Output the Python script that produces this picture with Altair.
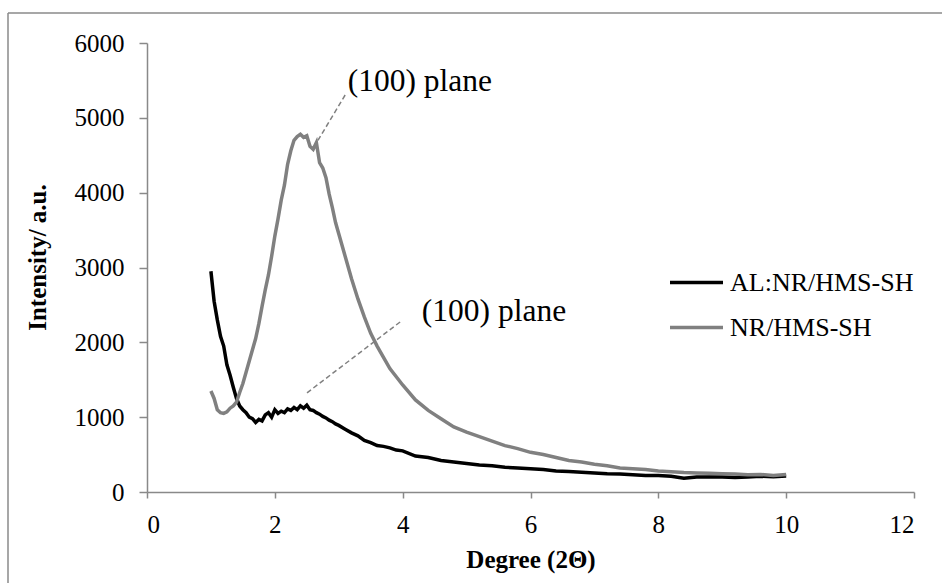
import altair as alt
import pandas as pd

# ---- data ----
degree = [1.0, 1.05, 1.1, 1.15, 1.2, 1.25, 1.3, 1.35, 1.4, 1.45, 1.5, 1.55, 1.6, 1.65, 1.7,
          1.75, 1.8, 1.85, 1.9, 1.95, 2.0, 2.05, 2.1, 2.15, 2.2, 2.25, 2.3, 2.35, 2.4, 2.45,
          2.5, 2.55, 2.6, 2.65, 2.7, 2.75, 2.8, 2.85, 2.9, 2.95, 3.0, 3.1, 3.2, 3.3, 3.4,
          3.5, 3.6, 3.7, 3.8, 3.9, 4.0, 4.2, 4.4, 4.6, 4.8, 5.0, 5.2, 5.4, 5.6, 5.8, 6.0,
          6.2, 6.4, 6.6, 6.8, 7.0, 7.2, 7.4, 7.6, 7.8, 8.0, 8.2, 8.4, 8.6, 8.8, 9.0, 9.2,
          9.4, 9.6, 9.8, 10.0]

al_nr_hms_sh = [2950, 2550, 2300, 2080, 1950, 1700, 1560, 1400, 1250, 1150, 1100, 1060, 1000, 980, 930,
                970, 950, 1030, 1060, 1000, 1100, 1050, 1080, 1060, 1110, 1090, 1130, 1100, 1150, 1120,
                1160, 1100, 1090, 1060, 1040, 1010, 990, 960, 940, 910, 890, 840, 790, 750, 690,
                660, 620, 610, 590, 560, 550, 480, 460, 420, 400, 380, 360, 350, 330, 320, 310,
                300, 280, 275, 265, 255, 245, 240, 230, 220, 220, 210, 185, 200, 200, 200, 195,
                200, 210, 205, 215]

nr_hms_sh = [1350, 1250, 1100, 1060, 1050, 1070, 1120, 1150, 1200, 1330, 1450, 1600, 1750, 1900, 2050,
             2250, 2480, 2700, 2900, 3150, 3420, 3650, 3900, 4100, 4380, 4560, 4700, 4750, 4780, 4740,
             4760, 4620, 4580, 4670, 4400, 4330, 4200, 3980, 3800, 3600, 3450, 3150, 2850, 2580, 2340,
             2120, 1950, 1800, 1650, 1540, 1430, 1230, 1090, 980, 870, 800, 740, 680, 620, 580, 530,
             500, 460, 420, 400, 370, 350, 320, 310, 300, 280, 270, 260, 255, 250, 245, 240,
             230, 235, 220, 235]

series_names = ["AL:NR/HMS-SH", "NR/HMS-SH"]
series_colors = ["#000000", "#808080"]

annot_text = ["(100) plane", "(100) plane"]
annot_x = [3.14, 4.30]
annot_y = [5360, 2280]
leader_x = [3.10, 3.96]
leader_y = [5305, 2272]
leader_x2 = [2.66, 2.50]
leader_y2 = [4677, 1323]

x_ticks = [0, 2, 4, 6, 8, 10, 12]
y_ticks = [0, 1000, 2000, 3000, 4000, 5000, 6000]

# ---- tables ----
rows = []
for i, d in enumerate(degree):
    rows.append({"Degree": d, "Intensity": al_nr_hms_sh[i], "Series": series_names[0]})
    rows.append({"Degree": d, "Intensity": nr_hms_sh[i], "Series": series_names[1]})
df = pd.DataFrame(rows)

ann = pd.DataFrame({"t": annot_text, "x": annot_x, "y": annot_y})
lead = pd.DataFrame({"x": leader_x, "y": leader_y, "x2": leader_x2, "y2": leader_y2})

FONT = "Liberation Serif"
AX = "#898989"

xscale = alt.Scale(domain=[0, 12], nice=False, zero=False)
yscale = alt.Scale(domain=[0, 6000], nice=False)

lines = alt.Chart(df).mark_line(strokeWidth=3.5).encode(
    x=alt.X("Degree:Q", scale=xscale,
            axis=alt.Axis(values=x_ticks, format="d", title="Degree (2Θ)", grid=False, tickSize=6,
                          labelPadding=14, labelFontSize=25, labelFont=FONT, labelColor="#000",
                          titleFont=FONT, titleFontSize=25, titleFontWeight="bold",
                          titleColor="#000", titlePadding=10,
                          domainColor=AX, tickColor=AX, domainWidth=1.5, tickWidth=1.5)),
    y=alt.Y("Intensity:Q", scale=yscale,
            axis=alt.Axis(values=y_ticks, format="d", title="Intensity/ a.u.", grid=False, tickSize=8,
                          labelPadding=15, labelFontSize=25, labelFont=FONT, labelColor="#000",
                          titleFont=FONT, titleFontSize=25, titleFontWeight="bold",
                          titleColor="#000", titleX=-97, titleY=214, titleAngle=-90,
                          titleAlign="center", titleBaseline="bottom",
                          domainColor=AX, tickColor=AX, domainWidth=1.5, tickWidth=1.5)),
    color=alt.Color("Series:N",
                    scale=alt.Scale(domain=series_names, range=series_colors),
                    legend=alt.Legend(title=None, orient="none", legendX=521, legendY=211,
                                      symbolType="stroke", symbolSize=2809,
                                      symbolStrokeWidth=3.5, labelFont=FONT,
                                      labelFontSize=26, labelColor="#000", labelLimit=400,
                                      labelOffset=5, rowPadding=3)),
    order=alt.Order("Degree:Q"),
)

leaders = alt.Chart(lead).mark_rule(color="#808080", strokeWidth=1.5, strokeDash=[5, 3]).encode(
    x="x:Q", y="y:Q", x2="x2:Q", y2="y2:Q"
)

texts = alt.Chart(ann).mark_text(align="left", baseline="alphabetic", font=FONT,
                                 fontSize=31.5, color="#000").encode(
    x="x:Q", y="y:Q", text="t:N"
)

frame_v = alt.Chart(pd.DataFrame({"k": [0]})).mark_rule(color="#8a8a8a", strokeWidth=1.5).encode(
    x=alt.value(-139), y=alt.value(-30), y2=alt.value(560)
)
frame_h = alt.Chart(pd.DataFrame({"k": [0]})).mark_rule(color="#8a8a8a", strokeWidth=1.5).encode(
    x=alt.value(-139), x2=alt.value(820), y=alt.value(-30)
)

chart = alt.layer(frame_v, frame_h, lines, leaders, texts).properties(
    width=767, height=449,
    autosize=alt.AutoSizeParams(type="none"),
    padding={"left": 147, "top": 43, "right": 28, "bottom": 91},
    background="white",
).configure_view(stroke=None)

chart.save("out.html", embed_options={"renderer": "svg", "actions": False})
